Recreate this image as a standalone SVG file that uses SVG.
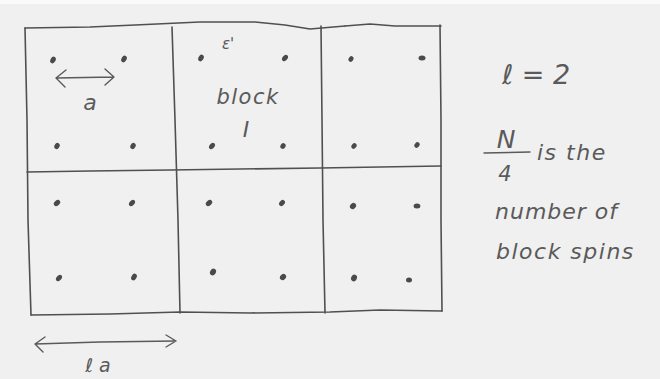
<svg xmlns="http://www.w3.org/2000/svg" width="660" height="379" viewBox="0 0 660 379">
<defs>
<style>
.ln{fill:none;stroke:#505050;stroke-width:1.6;stroke-linecap:round;stroke-linejoin:round}
.ar{fill:none;stroke:#5a5a5a;stroke-width:1.4;stroke-linecap:round;stroke-linejoin:round}
.dot{fill:#4a4a4a}
.t{font-family:"DejaVu Sans","Liberation Sans",sans-serif;font-style:oblique;fill:#5a5a5a;font-weight:300}
</style>
</defs>
<rect x="0" y="0" width="660" height="379" fill="#f0f0f0"/>
<rect x="0" y="0" width="660" height="4" fill="#fafafa"/>
<g id="connectors">
<path class="ln" d="M25,28 L90,27 L135,25 L200,22 L255,22 L285,25 L310,29 L345,26"/>
<path class="ln" d="M345,26 L370,24 L395,26 L441,26"/>
<path class="ln" d="M25,28 L27,120 L28,220 L31,315"/>
<path class="ln" d="M172,27 L175,120 L178,220 L180,313"/>
<path class="ln" d="M321,26 L322,120 L323,220 L325,313"/>
<path class="ln" d="M440,25 L441,120 L441,220 L442,311"/>
<path class="ln" d="M27,172 L90,171 L170,170 L240,169 L320,168 L380,167 L441,166"/>
<path class="ln" d="M31,315 L110,314 L180,312 L250,313 L330,312 L380,310 L442,311"/>
<path class="ar" d="M56,78 L114,77 M66,70 L56,78 L65,87 M105,69 L114,77 L105,85"/>
<path class="ar" d="M35,344 L100,342 L176,341 M45,337 L35,344 L43,352 M166,335 L176,341 L166,347"/>
<path class="ar" d="M484,153 L530,152"/>
</g>
<g id="dots">
<ellipse class="dot" cx="53" cy="60" rx="2.5" ry="3.5" transform="rotate(30 53 60)"/>
<ellipse class="dot" cx="124" cy="59" rx="2.5" ry="3.5" transform="rotate(30 124 59)"/>
<ellipse class="dot" cx="57" cy="146" rx="2.5" ry="3.2" transform="rotate(30 57 146)"/>
<ellipse class="dot" cx="133" cy="146" rx="2.5" ry="3.2" transform="rotate(30 133 146)"/>
<ellipse class="dot" cx="201" cy="58" rx="2.5" ry="3.5" transform="rotate(30 201 58)"/>
<ellipse class="dot" cx="285" cy="58" rx="2.5" ry="3.5" transform="rotate(40 285 58)"/>
<ellipse class="dot" cx="212" cy="146" rx="2.5" ry="3.5" transform="rotate(40 212 146)"/>
<ellipse class="dot" cx="283" cy="146" rx="2.5" ry="3" transform="rotate(30 283 146)"/>
<ellipse class="dot" cx="351" cy="59" rx="2.3" ry="3" transform="rotate(30 351 59)"/>
<ellipse class="dot" cx="422" cy="58" rx="3.5" ry="2.5"/>
<ellipse class="dot" cx="354" cy="146" rx="2.3" ry="3" transform="rotate(40 354 146)"/>
<ellipse class="dot" cx="417" cy="145" rx="2.3" ry="3" transform="rotate(40 417 145)"/>
<ellipse class="dot" cx="57" cy="203" rx="2.5" ry="3.6" transform="rotate(50 57 203)"/>
<ellipse class="dot" cx="132" cy="203" rx="2.5" ry="3.6" transform="rotate(40 132 203)"/>
<ellipse class="dot" cx="59" cy="278" rx="2.5" ry="3.6" transform="rotate(40 59 278)"/>
<ellipse class="dot" cx="134" cy="277" rx="2.5" ry="3.6" transform="rotate(30 134 277)"/>
<ellipse class="dot" cx="209" cy="203" rx="2.5" ry="3.6" transform="rotate(50 209 203)"/>
<ellipse class="dot" cx="282" cy="203" rx="2.5" ry="3.4" transform="rotate(40 282 203)"/>
<ellipse class="dot" cx="213" cy="272" rx="2.8" ry="3.6" transform="rotate(30 213 272)"/>
<ellipse class="dot" cx="283" cy="277" rx="2.8" ry="3.4" transform="rotate(40 283 277)"/>
<ellipse class="dot" cx="353" cy="206" rx="2.8" ry="3.4" transform="rotate(40 353 206)"/>
<ellipse class="dot" cx="417" cy="206" rx="3.4" ry="2.5"/>
<ellipse class="dot" cx="354" cy="278" rx="2.8" ry="3.4" transform="rotate(30 354 278)"/>
<ellipse class="dot" cx="409" cy="280" rx="3" ry="2.5"/>
</g>
<g id="labels">
<text class="t" x="222" y="49" font-size="15">ε'</text>
<text class="t" x="90" y="110" font-size="22" text-anchor="middle">a</text>
<text class="t" x="248" y="104" font-size="21" letter-spacing="1.5" text-anchor="middle">block</text>
<text class="t" x="246" y="137" font-size="22" text-anchor="middle">I</text>
<text class="t" x="98" y="372" font-size="19" text-anchor="middle">ℓ a</text>
<text class="t" x="536" y="84" font-size="27" text-anchor="middle">ℓ = 2</text>
<text class="t" x="506" y="148" font-size="25" text-anchor="middle">N</text>
<text class="t" x="505" y="181" font-size="21" text-anchor="middle">4</text>
<text class="t" x="537" y="160" font-size="22" letter-spacing="1.5">is the</text>
<text class="t" x="495" y="219" font-size="22" letter-spacing="1">number of</text>
<text class="t" x="496" y="259" font-size="22" letter-spacing="1.5">block spins</text>
</g>
</svg>
